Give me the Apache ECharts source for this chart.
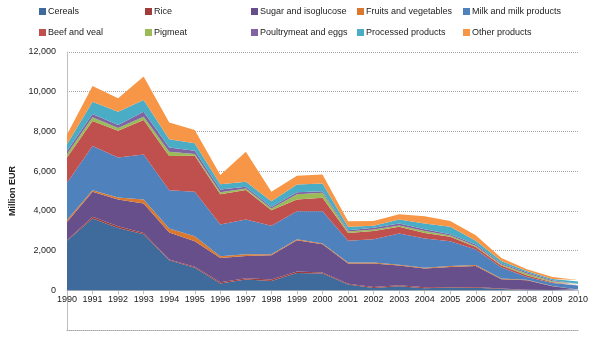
<!DOCTYPE html>
<html>
<head>
<meta charset="utf-8">
<script src="https://cdn.jsdelivr.net/npm/echarts@6/dist/echarts.min.js"></script>
<style>
  html, body { margin: 0; padding: 0; background: #fff; }
  #chart { width: 600px; height: 341px; }
</style>
</head>
<body>
<div id="chart"></div>
<script>
// Years on the category axis
var years = ['1990','1991','1992','1993','1994','1995','1996','1997','1998','1999','2000',
             '2001','2002','2003','2004','2005','2006','2007','2008','2009','2010'];

// Expenditure per sector, million EUR
var cereals    = [2490,3615,3140,2825,1510,1140, 340, 540, 470, 875, 840, 290, 120, 200, 100, 135, 130,  60,  20,  10,  10];
var rice       = [  30,  85,  90,  65,  40,  40,  60,  65,  70,  65,  60,  40,  50,  50,  50,  35,  35,  25,  10,   5,   5];
var sugar      = [ 920,1260,1340,1480,1360,1290,1230,1125,1225,1580,1420,1015,1175, 995, 945,1005,1060, 470, 475, 185,  20];
var fruits     = [ 100,  80, 100, 200, 200, 250,  85,  85,  50,  50,  35,  50,  50,  45,  45,  45,  45,  35,  25,  15,  10];
var milk       = [1870,2220,2020,2270,1930,2240,1595,1750,1430,1415,1630,1095,1175,1565,1465,1250, 780, 555, 140, 155, 200];
var beef       = [1280,1260,1345,1735,1720,1815,1530,1480, 790, 585, 670, 400, 420, 340, 285, 220, 135, 100,  85,  30,  30];
var pigmeat    = [ 170, 190, 135, 165, 215,  85, 100,  80,  85, 270, 255,  70,  70,  65, 100,  65,  50,  50,  85,  50,  30];
var poultry    = [ 150, 165, 150, 255, 220, 165, 135,  85,  80, 100,  80,  65,  85, 100,  85,  70,  70,  50,  70,  50,  30];
var processed  = [ 340, 625, 675, 585, 405, 375, 270, 250, 290, 390, 390, 170, 100, 205, 285, 370, 185, 135,  65,  70, 110];
var other      = [ 500, 790, 670,1180, 855, 670, 455,1515, 470, 435, 450, 285, 250, 265, 370, 300, 285, 150,  85, 100,  70];

// Y axis ticks
var yMin = -2000, yMax = 12000, yStep = 2000;

var seriesDefs = [
  { name: 'Cereals',                 data: cereals,   color: '#3E6A9C' },
  { name: 'Rice',                    data: rice,      color: '#A03C3A' },
  { name: 'Sugar and isoglucose',    data: sugar,     color: '#664F8B' },
  { name: 'Fruits and vegetables',   data: fruits,    color: '#D9782E' },
  { name: 'Milk and milk products',  data: milk,      color: '#4F81BD' },
  { name: 'Beef and veal',           data: beef,      color: '#C0504D' },
  { name: 'Pigmeat',                 data: pigmeat,   color: '#9BBB59' },
  { name: 'Poultrymeat and eggs',    data: poultry,   color: '#8064A2' },
  { name: 'Processed products',      data: processed, color: '#4BACC6' },
  { name: 'Other products',          data: other,     color: '#F79646' }
];

var font = 'Liberation Sans';
var textColor = '#222';
var gridLineStyle = { color: '#A6A6A6', type: [1, 1], width: 1 };

// Plot area geometry
var gridTop = 52, gridBottomPx = 330;
var zeroPx = gridTop + (gridBottomPx - gridTop) * yMax / (yMax - yMin);

// Legend laid out as a 5 x 2 grid: one vertical legend per column
var legendCols = [39, 145, 251, 357, 463];
var legends = legendCols.map(function (x, i) {
  return {
    orient: 'vertical',
    left: x,
    top: 7,
    padding: 0,
    itemGap: 12,
    itemWidth: 7,
    itemHeight: 7,
    icon: 'rect',
    selectedMode: false,
    textStyle: { fontFamily: font, fontSize: 9, color: textColor, padding: [0, 0, 0, -3] },
    data: [seriesDefs[i].name, seriesDefs[i + 5].name]
  };
});

var series = seriesDefs.map(function (s) {
  return {
    name: s.name,
    type: 'line',
    stack: 'total',
    xAxisIndex: 0,
    data: s.data,
    showSymbol: false,
    symbol: 'none',
    lineStyle: { width: 0 },
    itemStyle: { color: s.color },
    areaStyle: { color: s.color, opacity: 1 },
    emphasis: { disabled: true },
    animation: false
  };
});

var chart = echarts.init(document.getElementById('chart'), null, { renderer: 'canvas' });
chart.setOption({
  animation: false,
  legend: legends,
  grid: { left: 66, right: 22, top: gridTop, bottom: 341 - gridBottomPx, containLabel: false },
  xAxis: [
    {
      // year axis, drawn along the zero line
      type: 'category',
      data: years,
      boundaryGap: false,
      offset: -(gridBottomPx - zeroPx),
      axisLine: { onZero: false, lineStyle: { color: '#BFBFBF', width: 1 } },
      axisTick: { show: true, alignWithLabel: true, length: 4, lineStyle: { color: '#BFBFBF' } },
      axisLabel: { fontFamily: font, fontSize: 9, color: textColor, margin: 5, interval: 0 }
    },
    {
      // dotted edge along the lowest gridline
      type: 'category',
      data: years,
      boundaryGap: false,
      position: 'bottom',
      axisLine: { show: true, onZero: false, lineStyle: gridLineStyle },
      axisTick: { show: false },
      axisLabel: { show: false },
      splitLine: { show: false }
    }
  ],
  yAxis: {
    type: 'value',
    min: yMin,
    max: yMax,
    interval: yStep,
    name: 'Million EUR',
    nameLocation: 'middle',
    nameGap: 50,
    nameRotate: 90,
    nameTextStyle: { fontFamily: font, fontSize: 9, fontWeight: 'bold', color: textColor },
    axisLine: { show: true, lineStyle: { color: '#BFBFBF', width: 1 } },
    axisTick: { show: false },
    axisLabel: {
      fontFamily: font, fontSize: 9, color: textColor, margin: 11,
      formatter: function (v) {
        if (v < 0) return '';
        return v.toString().replace(/\B(?=(\d{3})+(?!\d))/g, ',');
      }
    },
    splitLine: { show: true, lineStyle: gridLineStyle }
  },
  series: series
});
</script>
</body>
</html>
